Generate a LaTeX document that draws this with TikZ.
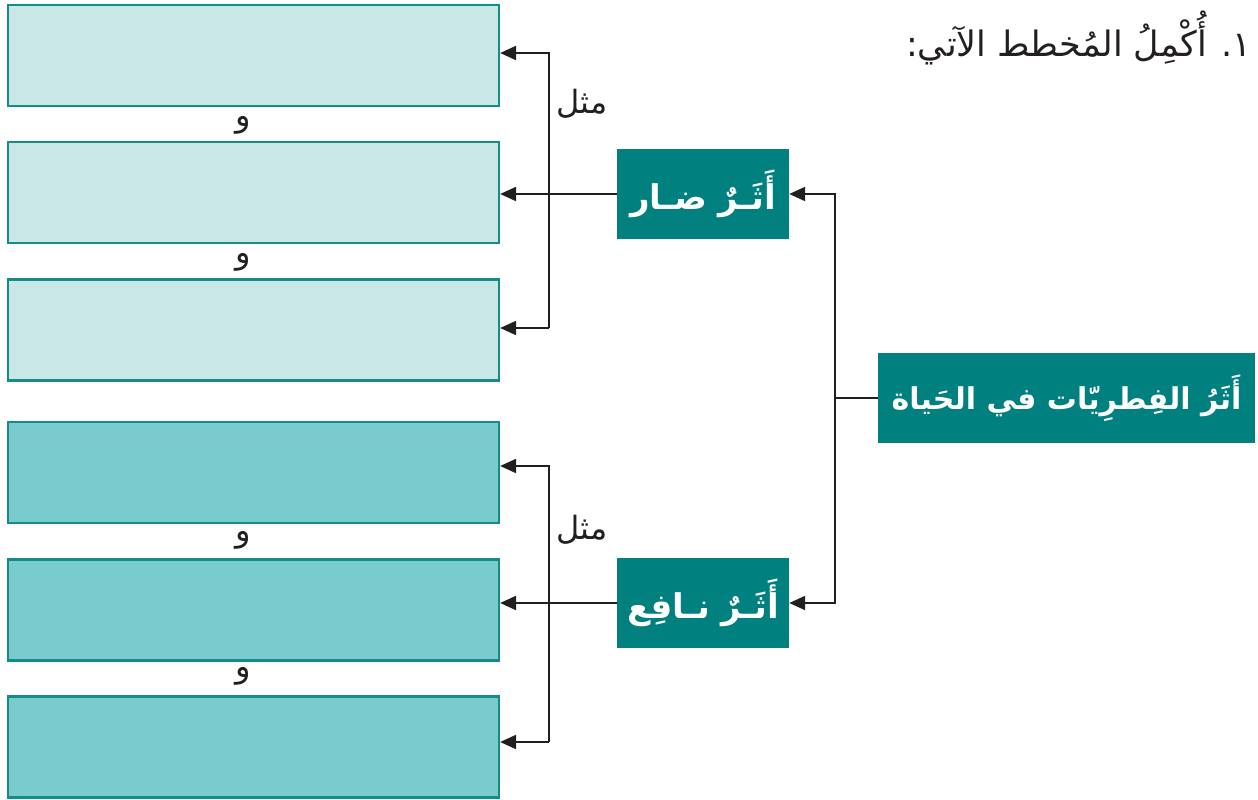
\documentclass[tikz,border=0pt]{standalone}
\usepackage{fontspec}
\usetikzlibrary{arrows.meta}
\newfontfamily\arabicfont[Script=Arabic]{DejaVu Sans}
\TeXXeTstate=1
\definecolor{tealdark}{HTML}{00807F}
\definecolor{tealline}{HTML}{148C8A}
\definecolor{lightfill}{HTML}{C9E7E6}
\definecolor{midfill}{HTML}{79CBCE}
\definecolor{ink}{HTML}{231F20}
\begin{document}
\begin{tikzpicture}[x=1pt,y=-1pt,
  ansbox/.style={draw=tealline,line width=2.2pt,minimum width=491pt,minimum height=101pt,inner sep=0pt},
  catbox/.style={fill=tealdark,text=white,inner sep=0pt,font=\arabicfont\bfseries\fontsize{34}{40}\selectfont},
  conn/.style={draw=ink,line width=2pt},
  arr/.style={conn,-{Triangle[length=16pt,width=14pt]}},
  lbl/.style={text=ink,inner sep=0pt,font=\arabicfont\fontsize{32}{38}\selectfont}]
\useasboundingbox (0,0) rectangle (1258,800);
% answer boxes
\node[ansbox,fill=lightfill] (b1) at (253.5,55.5) {};
\node[ansbox,fill=lightfill] (b2) at (253.5,192.5) {};
\node[ansbox,fill=lightfill] (b3) at (253.5,330) {};
\node[ansbox,fill=midfill] (b4) at (253.5,472.5) {};
\node[ansbox,fill=midfill] (b5) at (253.5,610) {};
\node[ansbox,fill=midfill] (b6) at (253.5,747) {};
% "and" labels
\node[lbl] (w1) at (243,125) {\beginR و\endR};
\node[lbl] (w2) at (243,262) {\beginR و\endR};
\node[lbl] (w3) at (243,540) {\beginR و\endR};
\node[lbl] (w4) at (243,676) {\beginR و\endR};
% category nodes
\node[catbox,minimum width=172pt,minimum height=90pt] (d1) at (703,194) {\beginR أَثَـرٌ ضـار\endR};
\node[catbox,minimum width=172pt,minimum height=90pt] (d2) at (703,603) {\beginR أَثَـرٌ نـافِع\endR};
\node[catbox,minimum width=377pt,minimum height=90pt,font=\arabicfont\bfseries\fontsize{30}{36}\selectfont] (m) at (1066.5,398) {\beginR أَثَرُ الفِطرِيّات في الحَياة\endR};
% title
\node[lbl,anchor=east,font=\arabicfont\fontsize{35}{40}\selectfont] (t) at (1252,38) {\beginR ١. أُكْمِلُ المُخطط الآتي:\endR};
% "such as" labels
\node[lbl] (s1) at (582,104) {\beginR مثل\endR};
\node[lbl] (s2) at (582,530) {\beginR مثل\endR};
% main connectors
\coordinate (j) at (835,398);
\coordinate (jt) at (835,194);
\coordinate (jb) at (835,603);
\draw[conn] (m.west) -- (j);
\draw[arr] (j) -- (jt) -- (d1.east);
\draw[arr] (j) -- (jb) -- (d2.east);
% upper bracket
\coordinate (kt1) at (549,53);
\coordinate (kb1) at (549,328);
\draw[arr] (d1.west) -- (b2.east |- d1.west);
\draw[arr] (kb1) -- (kt1) -- (b1.east |- kt1);
\draw[arr] (kt1 |- kb1) -- (b3.east |- kb1);
% lower bracket
\coordinate (kt2) at (549,466);
\coordinate (kb2) at (549,742);
\draw[arr] (d2.west) -- (b5.east |- d2.west);
\draw[arr] (kb2) -- (kt2) -- (b4.east |- kt2);
\draw[arr] (kb2) -- (b6.east |- kb2);
\end{tikzpicture}
\end{document}
